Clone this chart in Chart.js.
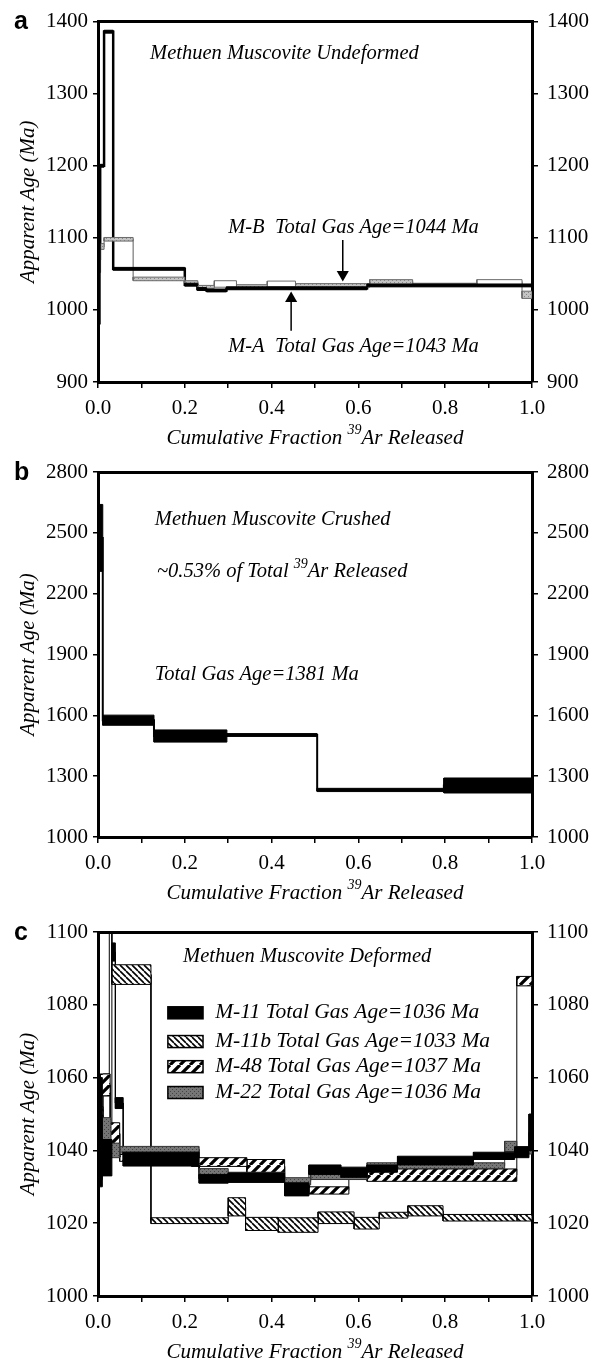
<!DOCTYPE html>
<html>
<head>
<meta charset="utf-8">
<script src="https://cdn.jsdelivr.net/npm/chart.js@4.4.0/dist/chart.umd.min.js"></script>
<style>
  html, body { margin: 0; padding: 0; background: #fff; }
  .panel { position: relative; width: 602px; }
  canvas { display: block; }
</style>
</head>
<body>
<div class="panel" style="height:450px"><canvas id="chartA"></canvas></div>
<div class="panel" style="height:455px"><canvas id="chartB"></canvas></div>
<div class="panel" style="height:459px"><canvas id="chartC"></canvas></div>
<script>
// ---------- shared ticks ----------
var xMinorTicks = [0, 0.1, 0.2, 0.3, 0.4, 0.5, 0.6, 0.7, 0.8, 0.9, 1.0];
var xTickLabels = ['0.0', '0.2', '0.4', '0.6', '0.8', '1.0'];

// ---------- panel a : undeformed ----------
var aYTicks = [900, 1000, 1100, 1200, 1300, 1400];
var aTotalGas = [1043, 1044]; // M-A, M-B
var maEdges = [0, 0.005, 0.014, 0.035, 0.2, 0.229, 0.25, 0.296, 0.62, 1.0];
var maAge   = [1090, 1200, 1386, 1057, 1035, 1029, 1027, 1030, 1034];
var maErr   = [110, 2, 2, 2, 2, 2, 2, 2, 2];
var mbEdges = [0, 0.006, 0.014, 0.081, 0.2, 0.23, 0.268, 0.319, 0.39, 0.455, 0.626, 0.725, 0.873, 0.977, 1.0];
var mbAge   = [1070, 1088, 1098, 1043, 1038, 1032, 1036, 1033, 1036, 1034, 1038.5, 1035, 1038.5, 1021];
var mbErr   = [18, 4, 2.5, 2.5, 2.5, 2, 4.5, 2, 4, 2.5, 3.5, 2, 3.5, 5];

// ---------- panel b : crushed ----------
var bYTicks = [1000, 1300, 1600, 1900, 2200, 2500, 2800];
var bTotalGas = 1381;
var crEdges = [0, 0.011, 0.129, 0.297, 0.505, 0.797, 1.0];
var crAge   = [2475, 1576, 1498, 1503, 1232, 1254];
var crErr   = [165, 25, 30, 7, 8, 37];

// ---------- panel c : deformed ----------
var cYTicks = [1000, 1020, 1040, 1060, 1080, 1100];
var cSamples  = ['M-11', 'M-11b', 'M-48', 'M-22'];
var cTotalGas = [1036, 1033, 1037, 1036];
var m11Edges = [0, 0.01, 0.032, 0.04, 0.058, 0.233, 0.3, 0.43, 0.486, 0.56, 0.62, 0.69, 0.865, 0.96, 0.993, 1.0];
var m11Age   = [1045, 1038, 1094.5, 1053, 1037.6, 1032.2, 1032.5, 1029.3, 1034.7, 1034, 1035, 1037.2, 1038.5, 1039.5, 1045];
var m11Err   = [15, 5, 2.5, 1.5, 1.9, 1.2, 1.3, 1.8, 1.3, 1.4, 1, 1.2, 1, 1.5, 5];
var m11bEdges = [0, 0.012, 0.026, 0.032, 0.122, 0.3, 0.34, 0.415, 0.507, 0.59, 0.648, 0.714, 0.795, 0.965, 1.0];
var m11bAge   = [1048, 1058, 1110, 1088.3, 1020.7, 1024.5, 1019.8, 1019.5, 1021.5, 1020, 1022.2, 1023.4, 1021.5, 1021.5];
var m11bErr   = [4, 3, 3, 2.7, 0.8, 2.5, 1.8, 2, 1.6, 1.6, 0.8, 1.4, 0.9, 0.9];
var m48Edges = [0, 0.005, 0.028, 0.05, 0.216, 0.343, 0.43, 0.486, 0.578, 0.62, 0.965, 1.0];
var m48Age   = [1045, 1058, 1044.6, 1038, 1036.8, 1035.6, 1031, 1029, 1033, 1033.2, 1086.5];
var m48Err   = [5, 3, 3, 1, 1.2, 1.9, 1, 1, 1, 1.7, 1.3];
var m22Edges = [0, 0.01, 0.03, 0.05, 0.233, 0.3, 0.43, 0.49, 0.62, 0.937, 0.965, 1.0];
var m22Age   = [1038, 1045, 1040, 1040.3, 1034, 1033, 1031.5, 1033, 1035.8, 1041.1, 1040];
var m22Err   = [6, 4, 2, 0.8, 1, 1, 1, 1, 0.8, 1.4, 1];

var serif = '"Liberation Serif", "Times New Roman", serif';
var sans = '"Liberation Sans", Arial, sans-serif';

// fill patterns
function pattern(size, bg, draw) {
  var c = document.createElement('canvas');
  c.width = c.height = size;
  var g = c.getContext('2d');
  g.fillStyle = bg;
  g.fillRect(0, 0, size, size);
  if (draw) draw(g, size);
  return g.createPattern(c, 'repeat');
}
function hatch(dir, w, color) {
  return function(g, s) {
    g.strokeStyle = color;
    g.lineWidth = w;
    g.beginPath();
    [-s, 0, s].forEach(function(k) {
      if (dir > 0) { g.moveTo(k, s); g.lineTo(k + s, 0); }
      else { g.moveTo(k, 0); g.lineTo(k + s, s); }
    });
    g.stroke();
  };
}
function dots(color) {
  return function(g) {
    g.fillStyle = color;
    g.fillRect(0, 0, 1, 1);
    g.fillRect(2, 2, 1, 1);
  };
}
var patBack  = pattern(6, '#fff', hatch(-1, 1.6, '#000'));  // M-11b
var patFwd   = pattern(10, '#fff', hatch(1, 3.2, '#000'));  // M-48
var patGrey  = pattern(4, '#767676', dots('#444'));         // M-22
var patLight = pattern(4, '#c4c4c4', dots('#888'));         // M-B

// one closed box per step (age +- error)
function boxes(edges, ages, errs, style) {
  return ages.map(function(a, i) {
    var x0 = edges[i], x1 = edges[i + 1], lo = a - errs[i], hi = a + errs[i];
    var ds = {
      data: [{x: x0, y: lo}, {x: x1, y: lo}, {x: x1, y: hi}, {x: x0, y: hi}, {x: x0, y: lo}],
      fill: 'shape', pointRadius: 0, borderJoinStyle: 'miter', order: 1
    };
    var s = style(i);
    for (var k in s) ds[k] = s[k];
    return ds;
  });
}
// staircase joining the steps
function steps(edges, ages, color, width) {
  var pts = [];
  ages.forEach(function(a, i) {
    pts.push({x: edges[i], y: a}, {x: edges[i + 1], y: a});
  });
  return {data: pts, fill: false, pointRadius: 0, borderColor: color, borderWidth: width, order: 3};
}
function arrow(x, from, to) {
  return {
    data: [{x: x, y: from}, {x: x, y: to}], fill: false, borderColor: '#000', borderWidth: 1.5,
    pointRadius: [0, 7], pointStyle: 'triangle', pointRotation: [0, from > to ? 180 : 0],
    pointBackgroundColor: '#000', pointBorderColor: '#000', pointBorderWidth: 0, order: 0
  };
}

function drawRich(ctx, parts, x, y, size, align) {
  var font = 'italic ' + size + 'px ' + serif;
  var supFont = 'italic ' + Math.round(size * 0.68) + 'px ' + serif;
  var w = 0;
  parts.forEach(function(p) {
    ctx.font = Array.isArray(p) ? supFont : font;
    w += ctx.measureText(Array.isArray(p) ? p[0] : p).width;
  });
  var cx = align === 'center' ? x - w / 2 : x;
  ctx.textAlign = 'left';
  ctx.textBaseline = 'middle';
  parts.forEach(function(p) {
    var sup = Array.isArray(p), s = sup ? p[0] : p;
    ctx.font = sup ? supFont : font;
    ctx.fillText(s, cx, sup ? y - size * 0.38 : y);
    cx += ctx.measureText(s).width;
  });
}

function notes(cfg) {
  return {
    id: 'notes',
    afterDraw: function(chart) {
      var ctx = chart.ctx, xs = chart.scales.x, ys = chart.scales.y, ca = chart.chartArea;
      ctx.save();
      ctx.fillStyle = '#000';
      ctx.textBaseline = 'middle';
      ctx.textAlign = 'left';
      ctx.font = 'bold 25px ' + sans;
      ctx.fillText(cfg.letter, 14, ca.top + 1);
      cfg.notes.forEach(function(n) {
        drawRich(ctx, n.parts, xs.getPixelForValue(n.x), ys.getPixelForValue(n.y), 20.5, 'left');
      });
      if (cfg.legend) {
        cfg.legend.forEach(function(l) {
          var x0 = xs.getPixelForValue(0.161), x1 = xs.getPixelForValue(0.242), yc = ys.getPixelForValue(l.y);
          ctx.fillStyle = l.fill;
          ctx.fillRect(x0, yc - 6, x1 - x0, 12);
          ctx.strokeStyle = '#000';
          ctx.lineWidth = 1.5;
          ctx.strokeRect(x0, yc - 6, x1 - x0, 12);
          ctx.fillStyle = '#000';
          drawRich(ctx, [l.text], xs.getPixelForValue(0.27), yc, 21.5, 'left');
        });
      }
      drawRich(ctx, ['Cumulative Fraction ', ['39'], 'Ar Released'], (ca.left + ca.right) / 2, ca.bottom + 56, 21, 'center');
      ctx.restore();
    }
  };
}

function axes(yTicks) {
  var tickFont = {family: serif, size: 21};
  var border = {color: '#000', width: 3};
  function yAxis(pos) {
    return {
      type: 'linear', axis: 'y', position: pos,
      min: yTicks[0], max: yTicks[yTicks.length - 1],
      afterBuildTicks: function(s) { s.ticks = yTicks.map(function(v) { return {value: v}; }); },
      afterFit: function(s) { s.width = pos === 'left' ? 98 : 70; },
      ticks: {color: '#000', font: tickFont, padding: pos === 'left' ? 5 : 9,
              callback: function(v) { return String(v); }},
      grid: {drawOnChartArea: false, color: '#000', lineWidth: 1.5, tickLength: pos === 'left' ? 5 : 6},
      border: border,
      title: {
        display: pos === 'left', text: 'Apparent Age (Ma)', color: '#000',
        font: {family: serif, size: 21, style: 'italic'}, padding: {top: 16, bottom: 0}
      }
    };
  }
  return {
    x: {
      type: 'linear', axis: 'x', position: 'bottom', min: 0, max: 1,
      afterBuildTicks: function(s) { s.ticks = xMinorTicks.map(function(v) { return {value: v}; }); },
      afterFit: function(s) { s.height = 68; },
      ticks: {
        autoSkip: false, maxRotation: 0, color: '#000', font: tickFont, padding: 8,
        callback: function(v, i) { return i % 2 === 0 ? xTickLabels[i / 2] : ''; }
      },
      grid: {drawOnChartArea: false, color: '#000', lineWidth: 1.5, tickLength: 6},
      border: border
    },
    x2: {
      type: 'linear', axis: 'x', position: 'top', min: 0, max: 1,
      ticks: {display: false}, grid: {display: false, drawTicks: false}, border: border,
      afterFit: function(s) { s.height = 0; }
    },
    y: yAxis('left'),
    y2: yAxis('right')
  };
}

function makeChart(id, top, yTicks, datasets, cfg) {
  return new Chart(document.getElementById(id), {
    type: 'line',
    data: {datasets: datasets},
    options: {
      responsive: true, maintainAspectRatio: false, animation: false, devicePixelRatio: 1,
      layout: {padding: {top: top, left: 0, right: 0, bottom: 0}},
      elements: {point: {radius: 0}, line: {tension: 0}},
      plugins: {legend: {display: false}, tooltip: {enabled: false}},
      scales: axes(yTicks)
    },
    plugins: [notes(cfg)]
  });
}

// ---------- panel a ----------
var mbOpen = [6, 8, 12];
var dsA = [].concat(
  boxes(maEdges, maAge, maErr, function() { return {backgroundColor: '#000', borderColor: '#000', borderWidth: 1}; }),
  boxes(mbEdges, mbAge, mbErr, function(i) {
    return {backgroundColor: mbOpen.indexOf(i) >= 0 ? '#fff' : patLight, borderColor: '#6a6a6a', borderWidth: 1, order: 2};
  }),
  [steps(maEdges, maAge, '#000', 2.5), steps(mbEdges, mbAge, '#777', 1.2),
   arrow(0.564, 1097, 1049), arrow(0.445, 971, 1016)]
);
makeChart('chartA', 17, aYTicks, dsA, {
  letter: 'a',
  notes: [
    {x: 0.12, y: 1355, parts: ['Methuen Muscovite Undeformed']},
    {x: 0.3, y: 1114, parts: ['M-B  Total Gas Age=' + aTotalGas[1] + ' Ma']},
    {x: 0.3, y: 949, parts: ['M-A  Total Gas Age=' + aTotalGas[0] + ' Ma']}
  ]
});

// ---------- panel b ----------
var dsB = [].concat(
  boxes(crEdges, crAge, crErr, function() { return {backgroundColor: '#000', borderColor: '#000', borderWidth: 1}; }),
  [steps(crEdges, crAge, '#000', 2)]
);
makeChart('chartB', 22, bYTicks, dsB, {
  letter: 'b',
  notes: [
    {x: 0.131, y: 2563, parts: ['Methuen Muscovite Crushed']},
    {x: 0.136, y: 2307, parts: ['~0.53% of Total ', ['39'], 'Ar Released']},
    {x: 0.131, y: 1799, parts: ['Total Gas Age=' + bTotalGas + ' Ma']}
  ]
});

// ---------- panel c ----------
var cFills = [ '#000', patBack, patFwd, patGrey ];
var dsC = [].concat(
  boxes(m11Edges, m11Age, m11Err, function() { return {backgroundColor: cFills[0], borderColor: '#000', borderWidth: 1, order: 1}; }),
  boxes(m22Edges, m22Age, m22Err, function() { return {backgroundColor: cFills[3], borderColor: '#333', borderWidth: 1, order: 1.5}; }),
  boxes(m48Edges, m48Age, m48Err, function() { return {backgroundColor: cFills[2], borderColor: '#000', borderWidth: 1, order: 2}; }),
  boxes(m11bEdges, m11bAge, m11bErr, function() { return {backgroundColor: cFills[1], borderColor: '#000', borderWidth: 1, order: 2.5}; }),
  [steps(m11Edges, m11Age, '#000', 1), steps(m22Edges, m22Age, '#444', 1),
   steps(m48Edges, m48Age, '#000', 1), steps(m11bEdges, m11bAge, '#000', 1)]
);
var legendY = [1077.8, 1069.9, 1063, 1055.9];
makeChart('chartC', 27, cYTicks, dsC, {
  letter: 'c',
  notes: [
    {x: 0.196, y: 1093.2, parts: ['Methuen Muscovite Deformed']}
  ],
  legend: cSamples.map(function(s, i) {
    return {text: s + ' Total Gas Age=' + cTotalGas[i] + ' Ma', fill: cFills[i], y: legendY[i]};
  })
});
</script>
</body>
</html>
